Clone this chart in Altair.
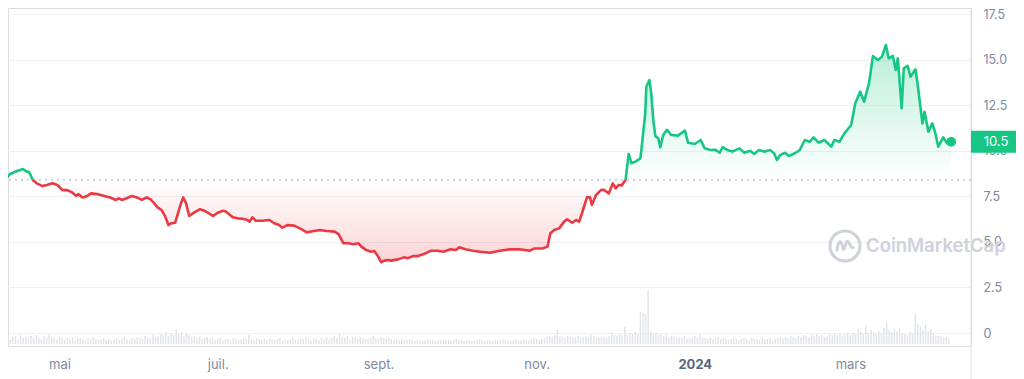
import altair as alt
import pandas as pd

# ---------------- data ----------------
# price samples: day offset from 2023-04-10, price value
price_day = [
    0, 1.9, 3.1, 4.6, 6.9, 8.4, 9.2, 10.7, 12.2, 14.5,
    16.4, 18.3, 20.2, 22.1, 24.0, 26.0, 27.5, 28.2, 29.8, 31.7,
    33.2, 35.5, 38.2, 40.8, 42.7, 43.9, 45.0, 46.9, 48.9, 50.8,
    52.7, 54.6, 56.1, 57.3, 58.8, 60.3, 61.8, 63.0, 64.1, 65.6,
    67.6, 68.7, 69.8, 71.0, 72.5, 75.2, 77.1, 78.2, 80.2, 82.1,
    84.0, 85.1, 87.8, 89.7, 91.6, 93.5, 94.3, 95.4, 96.6, 99.2,
    101.9, 103.8, 105.7, 106.9, 108.8, 111.5, 113.7, 116.4, 119.1, 121.4,
    124.0, 127.1, 128.6, 130.5, 132.4, 134.4, 136.3, 137.4, 139.3, 141.2,
    142.4, 143.9, 145.0, 146.2, 147.7, 148.9, 151.5, 153.8, 155.3, 157.3,
    159.2, 161.5, 164.1, 166.8, 169.1, 171.8, 173.7, 175.2, 177.5, 180.5,
    183.2, 187.0, 190.8, 194.7, 198.5, 202.3, 204.2, 207.3, 209.2, 210.3,
    211.8, 213.7, 215.6, 216.8, 218.7, 220.2, 221.4, 222.5, 224.4, 225.6,
    226.3, 227.9, 229.8, 230.9, 232.8, 234.4, 235.5, 236.6, 237.8, 239.3,
    240.5, 241.6, 243.1, 245.0, 245.4, 246.9, 247.3, 248.5, 249.2, 250.0,
    250.8, 251.9, 252.7, 253.8, 255.3, 256.9, 259.5, 262.2, 263.4, 266.0,
    268.3, 269.8, 272.1, 274.0, 275.6, 276.7, 278.6, 280.5, 283.2, 285.1,
    287.4, 288.9, 290.8, 292.7, 295.0, 296.6, 297.7, 298.9, 300.8, 302.3,
    304.6, 306.5, 308.4, 310.3, 311.8, 313.7, 316.0, 318.7, 319.8, 321.8,
    323.7, 326.3, 327.9, 329.8, 331.3, 333.2, 334.7, 336.6, 338.2, 339.7,
    340.8, 342.4, 343.5, 344.3, 345.8, 346.6, 348.1, 349.2, 351.1, 351.9,
    353.8, 354.6, 356.1, 357.6, 358.8, 359.9, 361.8, 363.4, 364.9,
]
price_val = [
    8.42, 8.72, 8.79, 8.89, 9.0, 8.85, 8.85, 8.39, 8.21, 8.06,
    8.13, 8.21, 8.12, 7.84, 7.84, 7.70, 7.52, 7.62, 7.44, 7.52,
    7.66, 7.62, 7.52, 7.42, 7.30, 7.39, 7.30, 7.39, 7.52, 7.44,
    7.30, 7.44, 7.33, 7.15, 6.89, 6.75, 6.38, 5.92, 6.02, 6.05,
    7.02, 7.44, 7.11, 6.42, 6.57, 6.79, 6.69, 6.60, 6.42, 6.60,
    6.71, 6.66, 6.35, 6.29, 6.27, 6.20, 6.11, 6.35, 6.16, 6.16,
    6.20, 6.02, 5.92, 5.78, 5.92, 5.89, 5.74, 5.52, 5.60, 5.65,
    5.60, 5.56, 5.43, 4.92, 4.92, 4.87, 4.92, 4.74, 4.55, 4.46,
    4.50, 4.19, 3.88, 3.97, 4.00, 3.97, 4.04, 4.15, 4.10, 4.22,
    4.22, 4.33, 4.51, 4.51, 4.46, 4.59, 4.55, 4.70, 4.59, 4.51,
    4.46, 4.40, 4.51, 4.59, 4.59, 4.51, 4.64, 4.64, 4.74, 5.47,
    5.65, 5.74, 6.11, 6.24, 6.05, 6.20, 6.11, 6.57, 7.44, 7.44,
    7.02, 7.57, 7.84, 7.86, 7.66, 8.21, 7.94, 8.12, 8.10, 8.39,
    9.82, 9.31, 9.40, 9.58, 10.04, 12.05, 13.51, 13.88, 13.15, 11.68,
    10.80, 10.68, 10.19, 10.86, 11.15, 10.86, 10.83, 11.10, 10.44, 10.37,
    10.59, 10.13, 10.04, 10.05, 9.89, 10.19, 10.04, 9.95, 10.13, 9.89,
    10.00, 9.82, 10.04, 9.95, 10.04, 9.86, 9.49, 9.76, 9.89, 9.71,
    9.86, 10.04, 10.59, 10.49, 10.73, 10.44, 10.59, 10.22, 10.59, 10.49,
    10.95, 11.41, 12.60, 13.24, 12.69, 13.70, 15.20, 14.98, 15.16, 15.80,
    15.07, 15.20, 14.43, 15.07, 12.33, 14.52, 14.65, 14.06, 14.47, 13.70,
    11.50, 12.14, 11.04, 11.50, 10.95, 10.22, 10.73, 10.40, 10.49,
]

# daily volume (relative units), one per day from 2023-04-10
volume = [
    5, 6, 4, 7, 8, 5, 9, 6, 7, 5,
    8, 6, 9, 7, 5, 8, 6, 10, 7, 6,
    5, 7, 6, 4, 6, 5, 7, 4, 5, 6,
    5, 4, 6, 5, 7, 5, 4, 5, 6, 4,
    5, 4, 5, 6, 4, 5, 7, 5, 4, 6,
    5, 7, 6, 5, 8, 6, 5, 9, 7, 8,
    10, 9, 12, 8, 11, 9, 15, 10, 12, 8,
    11, 9, 7, 8, 6, 7, 5, 6, 7, 5,
    6, 4, 5, 6, 4, 5, 5, 4, 6, 5,
    4, 5, 6, 5, 9, 5, 4, 6, 5, 4,
    5, 4, 6, 5, 4, 5, 6, 4, 5, 4,
    5, 6, 4, 5, 6, 5, 7, 5, 4, 6,
    5, 4, 6, 5, 7, 5, 6, 8, 6, 10,
    7, 6, 8, 5, 7, 6, 5, 7, 6, 5,
    6, 7, 8, 6, 5, 7, 6, 5, 6, 5,
    4, 5, 4, 5, 4, 4, 5, 4, 3, 4,
    4, 3, 4, 5, 4, 4, 3, 4, 4, 5,
    4, 4, 3, 4, 5, 4, 4, 3, 4, 4,
    3, 4, 4, 5, 4, 3, 4, 4, 3, 4,
    4, 4, 5, 4, 4, 3, 4, 5, 4, 4,
    5, 4, 4, 5, 6, 5, 4, 5, 6, 7,
    8, 7, 9, 15, 8, 7, 6, 8, 7, 6,
    7, 8, 6, 7, 8, 7, 9, 8, 6, 7,
    8, 7, 6, 8, 12, 9, 8, 10, 9, 17,
    9, 11, 10, 12, 10, 32, 31, 30, 54, 13,
    11, 12, 9, 10, 8, 9, 7, 8, 7, 6,
    7, 6, 8, 5, 6, 7, 8, 6, 10, 7,
    6, 5, 6, 5, 6, 7, 5, 6, 5, 4,
    5, 6, 5, 4, 5, 6, 5, 4, 6, 5,
    5, 4, 6, 5, 5, 6, 4, 5, 6, 7,
    6, 7, 6, 8, 7, 6, 8, 7, 9, 8,
    7, 9, 8, 10, 8, 9, 7, 8, 10, 9,
    10, 9, 11, 8, 10, 12, 9, 11, 10, 15,
    12, 10, 18, 11, 14, 12, 10, 13, 11, 16,
    22, 14, 12, 15, 13, 15, 11, 10, 9, 12,
    10, 31, 20, 18, 14, 20, 13, 15, 11, 9,
    8, 7, 6, 7, 5,
]

base_price = 8.4          # dotted reference line (opening price)
last_label = "10.5"
y_ticks = [0, 2.5, 5.0, 7.5, 10.0, 12.5, 15.0, 17.5]
x_tick_months = [(2023, 5), (2023, 7), (2023, 9), (2023, 11), (2024, 1), (2024, 3)]
watermark = "CoinMarketCap"

GREEN = "#16c784"
RED = "#ea3943"
FONT = "Inter"

# ---------------- tables ----------------
start = pd.Timestamp("2023-04-10")


def ts(d):
    return (start + pd.Timedelta(days=float(d))).strftime("%Y-%m-%dT%H:%M:%S")


pts = []
for i, (d, v) in enumerate(zip(price_day, price_val)):
    if i > 0:
        d0, v0 = price_day[i - 1], price_val[i - 1]
        if (v0 - base_price) * (v - base_price) < 0:
            t = (base_price - v0) / (v - v0)
            pts.append((d0 + t * (d - d0), base_price))
    pts.append((d, v))

area_df = pd.DataFrame({
    "date": [ts(d) for d, _ in pts],
    "up": [max(v, base_price) for _, v in pts],
    "dn": [min(v, base_price) for _, v in pts],
    "base": base_price,
})

groups = []
for k in range(len(pts) - 1):
    (d0, v0), (d1, v1) = pts[k], pts[k + 1]
    side = "up" if (v0 + v1) / 2 >= base_price else "dn"
    if groups and groups[-1][0] == side:
        groups[-1][1].append((d1, v1))
    else:
        groups.append([side, [(d0, v0), (d1, v1)]])

line_rows = []
for g, (side, plist) in enumerate(groups):
    for d, v in plist:
        line_rows.append({"date": ts(d), "v": v, "g": g, "side": side})
line_df = pd.DataFrame(line_rows)

last_df = pd.DataFrame({
    "date": [ts(price_day[-1])],
    "v": [price_val[-1]],
    "top": [price_val[-1] + 0.6],
    "bot": [price_val[-1] - 0.6],
    "label": [last_label],
})

vol_df = pd.DataFrame({
    "date": [ts(i) for i in range(len(volume))],
    "vol": volume,
})

# ---------------- scales / axes ----------------
x_scale = alt.Scale(domain=[
    alt.DateTime(year=2023, month=4, date=13, hours=1, minutes=12),
    alt.DateTime(year=2024, month=4, date=14, hours=14, minutes=24),
])
x_axis = alt.Axis(
    values=[alt.DateTime(year=y, month=m, date=1) for y, m in x_tick_months],
    labelExpr=("month(datum.value)==4 ? 'mai' : month(datum.value)==6 ? 'juil.' : "
               "month(datum.value)==8 ? 'sept.' : month(datum.value)==10 ? 'nov.' : "
               "month(datum.value)==0 ? '2024' : 'mars'"),
    grid=False, domain=False, ticks=False, labelPadding=12,
    labelFont=FONT, labelFontSize=13, labelOverlap=False, labelFlush=False,
    labelColor={"condition": {"test": "month(datum.value) == 0", "value": "#58667e"},
                "value": "#808a9d"},
    labelFontWeight={"condition": {"test": "month(datum.value) == 0", "value": 700},
                     "value": 400},
    title=None,
)
X = alt.X("date:T", scale=x_scale, axis=x_axis)

y_scale = alt.Scale(domain=[-0.713, 17.83], nice=False, zero=False)
y_axis = alt.Axis(
    orient="right", values=y_ticks,
    labelExpr="datum.value == 0 ? '0' : format(datum.value, '.1f')",
    grid=True, gridColor="#eff1f4", domain=False, ticks=False,
    labelPadding=12, labelFont=FONT, labelFontSize=12.5, labelColor="#808a9d",
    title=None,
)


def Y(field):
    return alt.Y(field, scale=y_scale, axis=y_axis)


# ---------------- layers ----------------
volume_layer = alt.Chart(vol_df).mark_bar(size=1.4, color="#dfe3ea", clip=True).encode(
    x=X,
    y=alt.Y("vol:Q", scale=alt.Scale(domain=[-2, 336], nice=False, zero=False), axis=None),
    y2=alt.datum(0),
)

green_fill = alt.Chart(area_df).mark_area(
    clip=True,
    color=alt.Gradient(
        gradient="linear",
        stops=[alt.GradientStop(color="rgba(22,199,132,0.30)", offset=0),
               alt.GradientStop(color="rgba(22,199,132,0.0)", offset=1)],
        x1=1, x2=1, y1=0, y2=1,
    ),
).encode(x=X, y=Y("up:Q"), y2="base:Q")

red_fill = alt.Chart(area_df).mark_area(
    clip=True,
    color=alt.Gradient(
        gradient="linear",
        stops=[alt.GradientStop(color="rgba(234,57,67,0.0)", offset=0),
               alt.GradientStop(color="rgba(234,57,67,0.22)", offset=1)],
        x1=1, x2=1, y1=0, y2=1,
    ),
).encode(x=X, y=Y("dn:Q"), y2="base:Q")

base_rule = alt.Chart(pd.DataFrame({"b": [base_price]})).mark_rule(
    color="#a6adbb", strokeDash=[2, 4], strokeWidth=1
).encode(y=Y("b:Q"))

price_line = alt.Chart(line_df).mark_line(strokeWidth=2.6, clip=True, strokeJoin="round").encode(
    x=X, y=Y("v:Q"),
    color=alt.Color("side:N", scale=alt.Scale(domain=["up", "dn"], range=[GREEN, RED]), legend=None),
    detail="g:N",
    order="date:T",
)

end_dot = alt.Chart(last_df).mark_circle(size=95, color=GREEN, opacity=1).encode(x=X, y=Y("v:Q"))

label_box = alt.Chart(last_df).mark_rect(color=GREEN).encode(
    x=alt.value(963), x2=alt.value(1008), y=Y("top:Q"), y2="bot:Q"
)
label_text = alt.Chart(last_df).mark_text(
    color="white", font=FONT, fontSize=13, align="center", baseline="middle"
).encode(x=alt.value(988), y=Y("v:Q"), text="label:N")

wm_df = pd.DataFrame({"t": [watermark]})
wm_text = alt.Chart(wm_df).mark_text(
    color="#cdd2db", font=FONT, fontSize=18.5, fontWeight=600, align="left", baseline="middle"
).encode(x=alt.value(858), y=alt.value(238), text="t:N")
wm_ring = alt.Chart(wm_df).mark_point(
    shape="circle", filled=False, size=900, strokeWidth=3, color="#cdd2db", opacity=1
).encode(x=alt.value(837), y=alt.value(238))
wm_wave = alt.Chart(wm_df).mark_point(
    shape="M -0.55 0.35 C -0.45 -0.45 -0.25 -0.45 -0.15 0.1 C -0.05 0.55 0.05 -0.45 0.2 -0.3 C 0.35 -0.15 0.4 0.25 0.6 0.05",
    filled=False, size=900, strokeWidth=3, color="#cdd2db", opacity=1
).encode(x=alt.value(837), y=alt.value(238))

axis_line = alt.Chart(wm_df).mark_rule(color="#dcdfe5", strokeWidth=1).encode(
    x=alt.value(963), y=alt.value(0), y2=alt.value(371)
)

price_layers = alt.layer(
    green_fill, red_fill, base_rule, price_line, end_dot, label_box, label_text
)

chart = alt.layer(
    volume_layer, wm_ring, wm_wave, wm_text, axis_line, price_layers
).resolve_scale(y="independent").properties(
    width=963, height=338,
    autosize=alt.AutoSizeParams(type="none"),
    padding={"left": 0, "top": 0, "right": 45, "bottom": 33},
).configure_view(stroke=None).configure(background="white")

chart.save("out.html", embed_options={"renderer": "svg", "actions": False})
